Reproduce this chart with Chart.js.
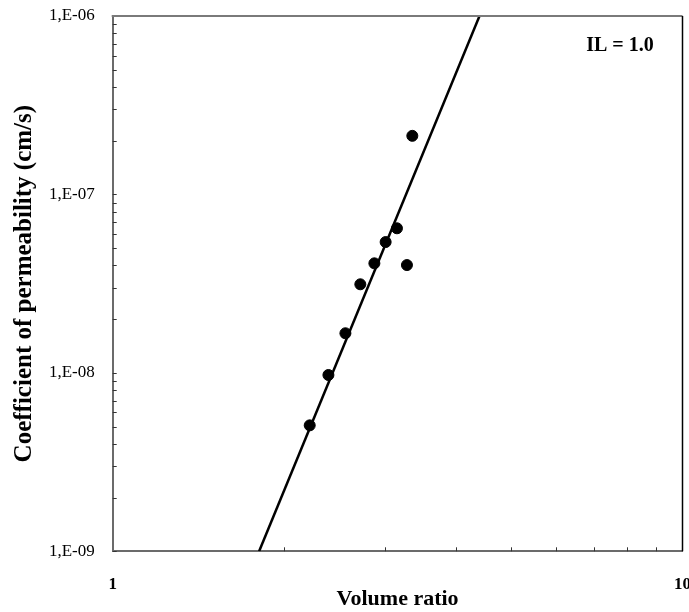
<!DOCTYPE html>
<html>
<head>
<meta charset="utf-8">
<script src="https://cdn.jsdelivr.net/npm/chart.js@4/dist/chart.umd.min.js"></script>
<style>
  html, body { margin: 0; padding: 0; background: #fff; }
  #wrap { width: 689px; height: 612px; position: relative; }
</style>
</head>
<body>
<div id="wrap"><canvas id="chart" width="689" height="612"></canvas></div>
<script>
/* ── DATA ─────────────────────────────────────────────── */
const volumeRatio  = [2.217, 2.391, 2.561, 2.720, 2.879, 3.013, 3.154, 3.284, 3.356];
const permeability = [5.08e-9, 9.73e-9, 1.667e-8, 3.136e-8, 4.11e-8, 5.41e-8, 6.46e-8, 4.02e-8, 2.13e-7];
const fitX = [1.807, 4.403];
const fitY = [1e-9, 1e-6];
const xRange = [1, 10];
const yRange = [1e-9, 1e-6];
const annotation = 'IL = 1.0';

const SERIF = '"Liberation Serif", "Times New Roman", serif';

function isDecade(v) {
  const e = Math.round(Math.log10(v));
  return Math.abs(v / Math.pow(10, e) - 1) < 1e-6 ? e : null;
}

/* ── PLUGIN: inward minor ticks, frame, annotation ───── */
const framePlugin = {
  id: 'frame',
  afterDraw(chart) {
    const { ctx, chartArea: a, scales: { x, y } } = chart;
    ctx.save();
    ctx.strokeStyle = '#333';
    ctx.lineWidth = 1;
    /* y minor ticks */
    for (let e = -9; e < -6; e++) {
      for (let k = 1; k <= 9; k++) {
        const py = Math.round(y.getPixelForValue(k * Math.pow(10, e))) + 0.5;
        ctx.beginPath(); ctx.moveTo(a.left, py); ctx.lineTo(a.left + 4, py); ctx.stroke();
      }
    }
    /* x minor ticks */
    for (let k = 2; k <= 9; k++) {
      const px = Math.round(x.getPixelForValue(k)) + 0.5;
      ctx.beginPath(); ctx.moveTo(px, a.bottom); ctx.lineTo(px, a.bottom - 4); ctx.stroke();
    }
    /* top and right border */
    ctx.strokeStyle = '#7a7a7a';
    ctx.lineWidth = 2;
    ctx.beginPath(); ctx.moveTo(a.left - 1, a.top); ctx.lineTo(a.right, a.top); ctx.stroke();
    ctx.strokeStyle = '#000';
    ctx.lineWidth = 1.5;
    ctx.beginPath(); ctx.moveTo(a.right, a.top); ctx.lineTo(a.right, a.bottom); ctx.stroke();
    /* annotation */
    ctx.fillStyle = '#000';
    ctx.font = 'bold 20px ' + SERIF;
    ctx.textAlign = 'center';
    ctx.textBaseline = 'middle';
    ctx.fillText(annotation, 620, 46);
    ctx.restore();
  }
};

/* ── CHART ────────────────────────────────────────────── */
new Chart(document.getElementById('chart').getContext('2d'), {
  type: 'scatter',
  data: {
    datasets: [
      {
        label: 'data',
        data: volumeRatio.map((v, i) => ({ x: v, y: permeability[i] })),
        backgroundColor: '#000',
        borderColor: '#000',
        pointRadius: 5.5,
        pointHoverRadius: 5.5
      },
      {
        label: 'fit',
        type: 'line',
        data: fitX.map((v, i) => ({ x: v, y: fitY[i] })),
        borderColor: '#000',
        borderWidth: 2.5,
        pointRadius: 0,
        fill: false
      }
    ]
  },
  options: {
    responsive: false,
    animation: false,
    layout: { padding: { top: 16, right: 5.7, left: 0, bottom: 0 } },
    plugins: { legend: { display: false }, tooltip: { enabled: false } },
    scales: {
      x: {
        type: 'logarithmic',
        position: 'bottom',
        min: xRange[0], max: xRange[1],
        grid: { display: false, drawTicks: false },
        border: { display: true, color: '#6b6b6b', width: 2 },
        ticks: {
          autoSkip: false, maxRotation: 0, padding: 23.5,
          color: '#000',
          font: { family: SERIF, size: 17, weight: 'bold' },
          callback: v => (v === 1 || v === 10) ? String(v) : ''
        },
        title: {
          display: true, text: 'Volume ratio', color: '#000',
          font: { family: SERIF, size: 22, weight: 'bold', lineHeight: 1 },
          padding: { top: 0, bottom: 2 }
        },
        afterFit(s) { s.height = 60.7; s.paddingLeft = 0; s.paddingRight = 0; }
      },
      y: {
        type: 'logarithmic',
        position: 'left',
        min: yRange[0], max: yRange[1],
        grid: { display: false, drawTicks: false },
        border: { display: true, color: '#6b6b6b', width: 2 },
        ticks: {
          autoSkip: false, padding: 18,
          color: '#000',
          font: { family: SERIF, size: 17 },
          callback: v => {
            const e = isDecade(v);
            if (e === null) return '';
            return '1,E-' + String(-e).padStart(2, '0');
          }
        },
        title: {
          display: true, text: 'Coefficient of permeability (cm/s)', color: '#000',
          font: { family: SERIF, size: 25, weight: 'bold', lineHeight: 1 },
          padding: { top: 12.5, bottom: 0 }
        },
        afterFit(s) { s.width = 112.7; s.paddingTop = 0; s.paddingBottom = 0; }
      }
    }
  },
  plugins: [framePlugin]
});
</script>
</body>
</html>
